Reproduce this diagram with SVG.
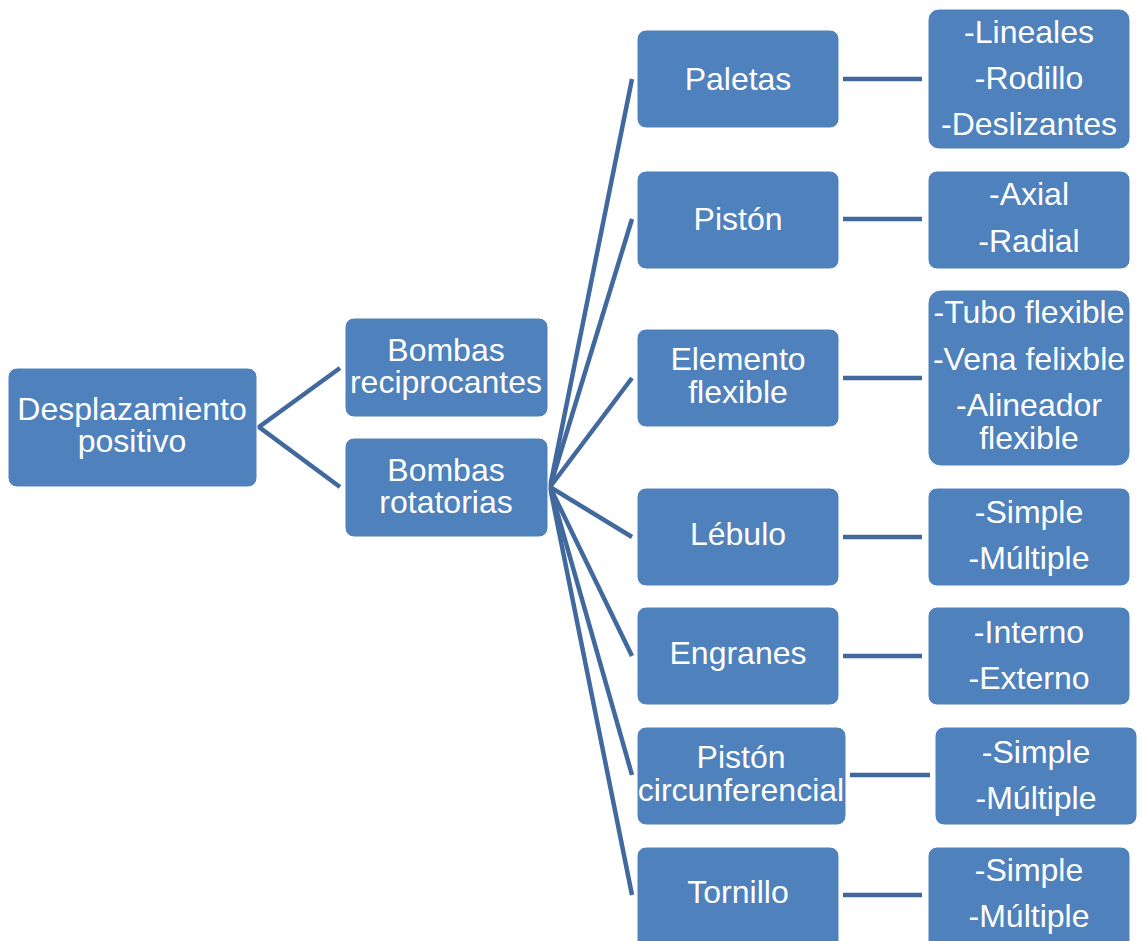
<svg xmlns="http://www.w3.org/2000/svg" width="1141" height="941" viewBox="0 0 1141 941">
<style>
.box{fill:#4F81BD;stroke:#FFFFFF;stroke-width:1}
.t{fill:#FFFFFF;font-family:"Liberation Sans",Arial,sans-serif;font-size:32px;text-anchor:middle}
.c{stroke:#41699D;stroke-width:4.5;fill:none;stroke-linecap:butt}
</style>
<rect width="1141" height="941" fill="#FFFFFF"/>
<g id="connectors">
<polyline class="c" points="340,368 259,427 340,487"/>
<line class="c" x1="550" y1="487" x2="632" y2="79"/>
<line class="c" x1="550" y1="487" x2="632" y2="219"/>
<line class="c" x1="550" y1="487" x2="632" y2="378"/>
<line class="c" x1="550" y1="487" x2="632" y2="537"/>
<line class="c" x1="550" y1="487" x2="632" y2="656"/>
<line class="c" x1="550" y1="487" x2="632" y2="775"/>
<line class="c" x1="550" y1="487" x2="632" y2="895"/>
<line class="c" x1="843" y1="79" x2="922" y2="79"/>
<line class="c" x1="843" y1="219" x2="922" y2="219"/>
<line class="c" x1="843" y1="378" x2="922" y2="378"/>
<line class="c" x1="843" y1="537" x2="922" y2="537"/>
<line class="c" x1="843" y1="656" x2="922" y2="656"/>
<line class="c" x1="850" y1="775" x2="930" y2="775"/>
<line class="c" x1="843" y1="895" x2="922" y2="895"/>
</g>
<g id="n-root"><rect class="box" x="8" y="368" width="249" height="119" rx="9"/><text class="t" x="132" y="420">Desplazamiento</text><text class="t" x="132" y="452">positivo</text></g>
<g id="n-reciprocantes"><rect class="box" x="345" y="318" width="203" height="99" rx="9"/><text class="t" x="446" y="361">Bombas</text><text class="t" x="446" y="393">reciprocantes</text></g>
<g id="n-rotatorias"><rect class="box" x="345" y="438" width="203" height="99" rx="9"/><text class="t" x="446" y="481">Bombas</text><text class="t" x="446" y="513">rotatorias</text></g>
<g id="n-paletas"><rect class="box" x="637" y="30" width="202" height="98" rx="9"/><text class="t" x="738" y="90">Paletas</text></g>
<g id="n-piston"><rect class="box" x="637" y="171" width="202" height="98" rx="9"/><text class="t" x="738" y="230">Pistón</text></g>
<g id="n-elemento"><rect class="box" x="637" y="329" width="202" height="98" rx="9"/><text class="t" x="738" y="370">Elemento</text><text class="t" x="738" y="403">flexible</text></g>
<g id="n-lebulo"><rect class="box" x="637" y="488" width="202" height="98" rx="9"/><text class="t" x="738" y="545">Lébulo</text></g>
<g id="n-engranes"><rect class="box" x="637" y="607" width="202" height="98" rx="9"/><text class="t" x="738" y="664">Engranes</text></g>
<g id="n-circ"><rect class="box" x="637" y="727" width="209" height="98" rx="9"/><text class="t" x="741" y="768">Pistón</text><text class="t" x="741" y="801">circunferencial</text></g>
<g id="n-tornillo"><rect class="box" x="637" y="847" width="202" height="104" rx="9"/><text class="t" x="738" y="903">Tornillo</text></g>
<g id="n-paletas-tipos"><rect class="box" x="928" y="9" width="202" height="140" rx="11"/><text class="t" x="1029" y="43">-Lineales</text><text class="t" x="1029" y="89">-Rodillo</text><text class="t" x="1029" y="135">-Deslizantes</text></g>
<g id="n-piston-tipos"><rect class="box" x="928" y="171" width="202" height="98" rx="9"/><text class="t" x="1029" y="205">-Axial</text><text class="t" x="1029" y="252">-Radial</text></g>
<g id="n-elemento-tipos"><rect class="box" x="928" y="290" width="202" height="176" rx="13"/><text class="t" x="1029" y="323">-Tubo flexible</text><text class="t" x="1029" y="370">-Vena felixble</text><text class="t" x="1029" y="416">-Alineador</text><text class="t" x="1029" y="449">flexible</text></g>
<g id="n-lebulo-tipos"><rect class="box" x="928" y="488" width="202" height="98" rx="9"/><text class="t" x="1029" y="523">-Simple</text><text class="t" x="1029" y="569">-Múltiple</text></g>
<g id="n-engranes-tipos"><rect class="box" x="928" y="607" width="202" height="98" rx="9"/><text class="t" x="1029" y="643">-Interno</text><text class="t" x="1029" y="689">-Externo</text></g>
<g id="n-circ-tipos"><rect class="box" x="935" y="727" width="202" height="98" rx="9"/><text class="t" x="1036" y="763">-Simple</text><text class="t" x="1036" y="809">-Múltiple</text></g>
<g id="n-tornillo-tipos"><rect class="box" x="928" y="847" width="202" height="104" rx="9"/><text class="t" x="1029" y="881">-Simple</text><text class="t" x="1029" y="927">-Múltiple</text></g>
</svg>
